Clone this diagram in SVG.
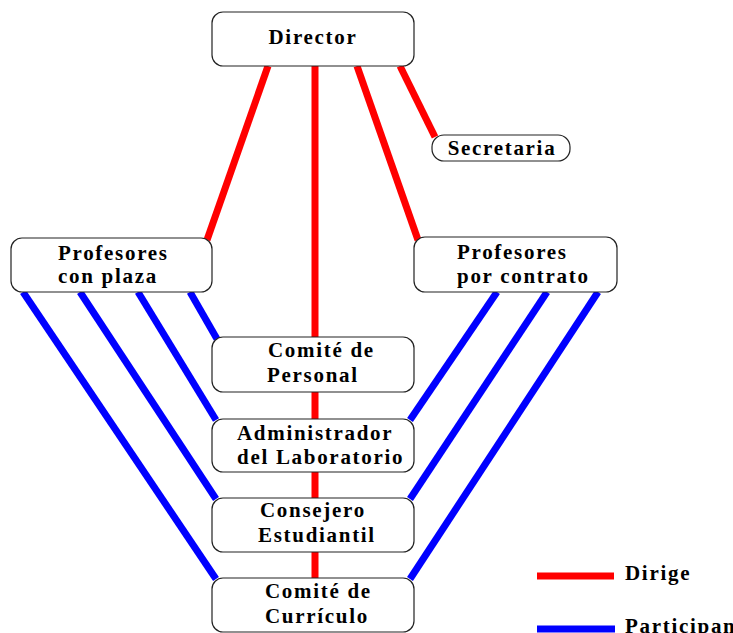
<svg xmlns="http://www.w3.org/2000/svg" width="733" height="633" viewBox="0 0 733 633">
<style>
.box{fill:#fff;stroke:#222;stroke-width:1.2}
.t{font-family:"Liberation Serif","Times New Roman","DejaVu Serif",serif;font-weight:bold;font-size:21px;letter-spacing:1.7px;fill:#000}
.r{stroke:#ff0000;stroke-width:7;fill:none}
.b{stroke:#0000ff;stroke-width:7;fill:none}
</style>
<rect width="733" height="633" fill="#fff"/>
<g id="connectors">
<line class="r" x1="268" y1="66" x2="207" y2="240"/>
<line class="r" x1="315" y1="66" x2="315" y2="580"/>
<line class="r" x1="357" y1="66" x2="418" y2="240"/>
<line class="r" x1="400" y1="66" x2="435" y2="137"/>
<line class="b" x1="190" y1="292" x2="217" y2="339"/>
<line class="b" x1="138" y1="292" x2="216" y2="420"/>
<line class="b" x1="80" y1="292" x2="216" y2="499"/>
<line class="b" x1="23" y1="292" x2="216" y2="579"/>
<line class="b" x1="497" y1="292" x2="410" y2="420"/>
<line class="b" x1="547" y1="292" x2="410" y2="499"/>
<line class="b" x1="598" y1="292" x2="410" y2="579"/>
</g>
<g id="director"><rect class="box" x="212" y="12" width="202" height="54" rx="11"/><text class="t" x="313" y="44" text-anchor="middle">Director</text></g>
<g id="secretaria"><rect class="box" x="432" y="135" width="138" height="26" rx="12"/><text class="t" x="502" y="155" text-anchor="middle">Secretaria</text></g>
<g id="profesores-plaza"><rect class="box" x="11" y="238" width="201" height="54" rx="11"/><text class="t" x="58" y="260">Profesores</text><text class="t" x="58" y="283">con plaza</text></g>
<g id="profesores-contrato"><rect class="box" x="414" y="237" width="203" height="55" rx="11"/><text class="t" x="457" y="259">Profesores</text><text class="t" x="457" y="283">por contrato</text></g>
<g id="comite-personal"><rect class="box" x="212" y="337" width="202" height="55" rx="11"/><text class="t" x="268" y="357">Comité de</text><text class="t" x="267" y="382">Personal</text></g>
<g id="administrador"><rect class="box" x="212" y="419" width="202" height="53" rx="11"/><text class="t" x="237" y="440">Administrador</text><text class="t" x="237" y="464">del Laboratorio</text></g>
<g id="consejero"><rect class="box" x="212" y="498" width="202" height="54" rx="11"/><text class="t" x="260" y="517">Consejero</text><text class="t" x="258" y="542">Estudiantil</text></g>
<g id="comite-curriculo"><rect class="box" x="212" y="578" width="202" height="54" rx="11"/><text class="t" x="265" y="598">Comité de</text><text class="t" x="265" y="623">Currículo</text></g>
<g id="legend">
<line class="r" x1="537" y1="576" x2="614" y2="576"/>
<text class="t" x="625" y="580">Dirige</text>
<line class="b" x1="537" y1="629" x2="615" y2="629"/>
<text class="t" x="625" y="633">Participan</text>
</g>
</svg>
